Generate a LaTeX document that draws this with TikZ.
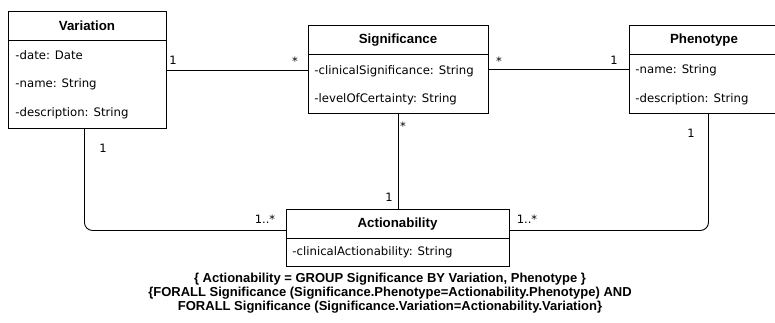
\documentclass[tikz,border=0pt]{standalone}
\usepackage{fontspec}
\setmainfont{DejaVu Sans}
\newfontfamily\libsans{Liberation Sans}
\begin{document}
\begin{tikzpicture}[x=1pt,y=-1pt,line width=0.9pt,
  classbox/.style={draw,inner sep=0pt,anchor=north west},
  title/.style={font=\libsans\bfseries\fontsize{13.3}{15}\selectfont,inner sep=0pt},
  attr/.style={font=\fontsize{11.7}{13}\selectfont,anchor=west,inner sep=0pt},
  mult/.style={font=\fontsize{11.5}{13}\selectfont,inner sep=0pt},
  cons/.style={font=\libsans\bfseries\fontsize{13}{15}\selectfont,inner sep=0pt}]
\useasboundingbox (0,0) rectangle (775,322);
% Variation
\node[classbox,minimum width=158pt,minimum height=117pt] (var) at (8,11) {};
\draw (8,40) -- (166,40);
\node[title] (varT) at (87,25.5) {Variation};
\node[attr] (va1) at (15,55) {-date: Date};
\node[attr] (va2) at (15,84) {-name: String};
\node[attr] (va3) at (15,113) {-description: String};
% Significance
\node[classbox,minimum width=180pt,minimum height=88pt] (sig) at (308,25) {};
\draw (308,54) -- (488,54);
\node[title] (sigT) at (398,40) {Significance};
\node[attr] (sa1) at (314,71) {-clinicalSignificance: String};
\node[attr] (sa2) at (314,99) {-levelOfCertainty: String};
% Phenotype
\node[classbox,minimum width=147pt,minimum height=88pt] (phe) at (629,25) {};
\draw (629,54) -- (776,54);
\node[title] (pheT) at (704,40) {Phenotype};
\node[attr] (pa1) at (635,70) {-name: String};
\node[attr] (pa2) at (635,99) {-description: String};
% Actionability
\node[classbox,minimum width=223pt,minimum height=57pt] (act) at (286,209) {};
\draw (286,238) -- (509,238);
\node[title] (actT) at (397.5,224) {Actionability};
\node[attr] (aa1) at (292,252) {-clinicalActionability: String};
% connectors
\draw (var.east) -- (var.east -| sig.west);
\draw (sig.east) -- (sig.east -| phe.west);
\draw (sig.south) -- (sig.south |- act.north);
\draw[rounded corners=8pt] ([xshift=-3pt]var.south) |- ([yshift=7.5pt]act.west);
\draw[rounded corners=8pt] ([xshift=5.5pt]phe.south) |- ([yshift=7.5pt]act.east);
% multiplicities
\node[mult] (m1) at (173,60) {1};
\node[mult] (m2) at (295,61) {*};
\node[mult] (m3) at (499,61) {*};
\node[mult] (m4) at (614,60) {1};
\node[mult] (m5) at (403,126) {*};
\node[mult] (m6) at (389,197) {1};
\node[mult] (m7) at (103,148) {1};
\node[mult] (m8) at (265,219) {1..*};
\node[mult] (m9) at (527,219) {1..*};
\node[mult] (m10) at (691,133) {1};
% constraint
\node[cons] (c1) at (390,279) {\{ Actionability = GROUP Significance BY Variation, Phenotype \}};
\node[cons] (c2) at (390,293) {\{FORALL Significance (Significance.Phenotype=Actionability.Phenotype) AND};
\node[cons] (c3) at (390,307) {FORALL Significance (Significance.Variation=Actionability.Variation\}};
\end{tikzpicture}
\end{document}
